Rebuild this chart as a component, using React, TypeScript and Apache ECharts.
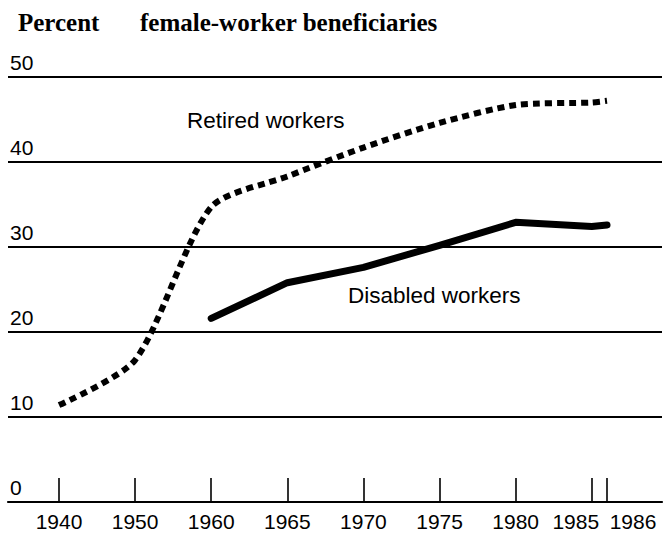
import React, { useEffect, useRef } from 'react';
import * as echarts from 'echarts';

// ---- data ----
const retiredYears = ['1940', '1950', '1960', '1965', '1970', '1975', '1980', '1985', '1986'];
const retiredWorkers = [11.4, 16.7, 34.7, 38.3, 41.7, 44.6, 46.7, 47.0, 47.2];
const disabledYears = ['1960', '1965', '1970', '1975', '1980', '1985', '1986'];
const disabledWorkers = [21.6, 25.8, 27.6, 30.2, 32.9, 32.4, 32.6];
const tickYears = ['1940', '1950', '1960', '1965', '1970', '1975', '1980', '1985', '1986'];
const titleLeft = 'Percent';
const titleRight = 'female-worker beneficiaries';
const retiredLabel = 'Retired workers';
const disabledLabel = 'Disabled workers';

// axis slots: two years per slot before 1960, one year per slot from 1960 (broken time scale)
const slotCategories: string[] = [];
for (let y = 1940; y < 1960; y += 2) slotCategories.push(String(y));
for (let y = 1960; y <= 1986; y += 1) slotCategories.push(String(y));

const SANS = '"Liberation Sans", Arial, Helvetica, sans-serif';
const SERIF = '"Liberation Serif", "Times New Roman", Times, serif';

export default function App() {
  const ref = useRef<HTMLDivElement>(null);
  useEffect(() => {
    document.body.style.margin = '0';
    if (!ref.current) return;
    const chart = echarts.init(ref.current, null, { renderer: 'svg' });
    const showTick = (_i: number, v: string) => tickYears.includes(v);
    const titleStyle = { fontFamily: SERIF, fontWeight: 'bold', fontSize: 25, color: '#000' };
    const labelBase = { fontFamily: SANS, fontSize: 21, color: '#000' };
    chart.setOption({
      animation: false,
      backgroundColor: '#fff',
      title: [
        { text: titleLeft, left: 13, top: 5, textStyle: titleStyle },
        { text: titleRight, left: 135, top: 5, textStyle: titleStyle },
      ],
      grid: [
        { left: 8, right: 8, top: 77, bottom: 31 },
        { left: 59, right: 63, top: 77, bottom: 31 },
      ],
      xAxis: [
        {
          gridIndex: 0,
          type: 'value',
          min: 0,
          max: 1,
          axisLine: { show: true, onZero: false, lineStyle: { color: '#000', width: 2.2 } },
          axisTick: { show: false },
          axisLabel: { show: false },
          splitLine: { show: false },
        },
        {
          gridIndex: 1,
          type: 'category',
          data: slotCategories,
          boundaryGap: false,
          axisLine: { show: false },
          axisTick: {
            show: true,
            inside: true,
            length: 24,
            interval: showTick,
            lineStyle: { color: '#000', width: 1.6 },
          },
          axisLabel: {
            ...labelBase,
            interval: showTick,
            margin: 9,
            formatter: (v: string) => (v === '1985' ? `{r|${v}}` : v === '1986' ? `{l|${v}}` : v),
            rich: {
              r: { ...labelBase, padding: [0, 32, 0, 0] },
              l: { ...labelBase, padding: [0, 0, 0, 52] },
            },
          },
          splitLine: { show: false },
        },
      ],
      yAxis: [
        {
          gridIndex: 0,
          type: 'value',
          min: 0,
          max: 50,
          interval: 10,
          axisLine: { show: false },
          axisTick: { show: false },
          axisLabel: {
            ...labelBase,
            inside: true,
            margin: 2,
            verticalAlign: 'bottom',
            padding: [0, 0, 4, 0],
          },
          splitLine: { show: true, lineStyle: { color: '#000', width: 1.8 } },
        },
        { gridIndex: 1, type: 'value', min: 0, max: 50, interval: 10, show: false },
      ],
      series: [
        {
          name: retiredLabel,
          type: 'line',
          xAxisIndex: 1,
          yAxisIndex: 1,
          data: retiredYears.map((y, i) => [y, retiredWorkers[i]]),
          symbol: 'none',
          smooth: 0.25,
          lineStyle: { color: '#000', width: 6, type: [7, 5], cap: 'butt' },
        },
        {
          name: disabledLabel,
          type: 'line',
          xAxisIndex: 1,
          yAxisIndex: 1,
          data: disabledYears.map((y, i) => [y, disabledWorkers[i]]),
          symbol: 'none',
          smooth: false,
          lineStyle: { color: '#000', width: 7, cap: 'round', join: 'round' },
        },
      ],
      graphic: [
        { type: 'text', left: 187, top: 109, style: { text: retiredLabel, fontFamily: SANS, fontSize: 22.5, fill: '#000' } },
        { type: 'text', left: 348, top: 284, style: { text: disabledLabel, fontFamily: SANS, fontSize: 22.5, fill: '#000' } },
      ],
    });
    return () => chart.dispose();
  }, []);
  return <div ref={ref} style={{ width: 670, height: 533 }} />;
}
